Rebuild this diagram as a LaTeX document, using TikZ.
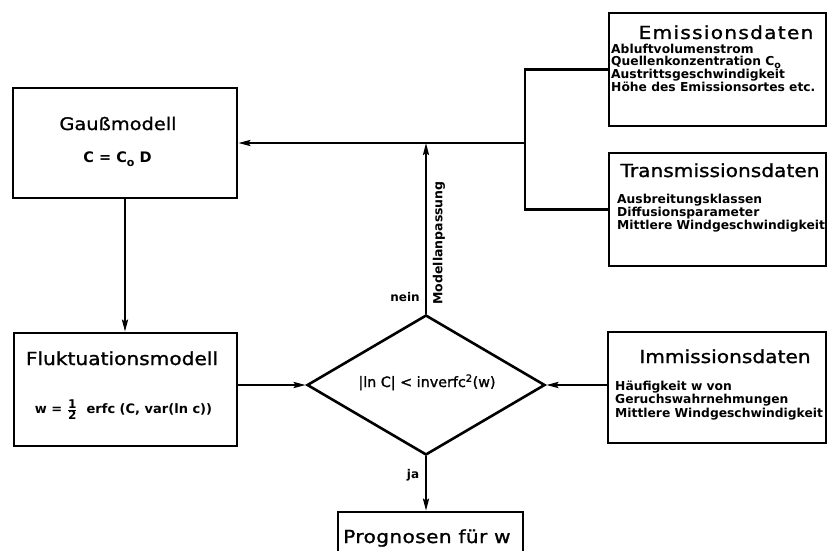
\documentclass[tikz,border=0pt]{standalone}
\usepackage{fontspec}
\setmainfont{DejaVu Sans}
\newfontfamily\titlef[FakeStretch=1.12,FakeBold=1.2]{DejaVu Sans}
\newfontfamily\bodyf{DejaVu Sans}
\newfontfamily\diaf[FakeBold=1.2]{DejaVu Sans}
\usetikzlibrary{shapes.geometric,arrows.meta}
\tikzset{
  box/.style={draw, line width=2.6pt, inner sep=0pt},
  ttl/.style={font=\titlef\fontsize{18}{20}\selectfont, inner sep=0pt, anchor=base},
  bdy/.style={font=\bodyf\bfseries\fontsize{12.3}{11.7}\selectfont, align=left, inner sep=0pt, anchor=base west},
  frm/.style={font=\bodyf\bfseries\fontsize{13}{14}\selectfont, inner sep=0pt, anchor=base},
  lbl/.style={font=\bodyf\bfseries\fontsize{12}{13}\selectfont, inner sep=0pt},
  conn/.style={line width=2.3pt},
  arr/.style={conn, -{Stealth[length=12pt,width=6pt,inset=2pt]}},
}
\begin{document}
\begin{tikzpicture}[x=1pt,y=-1pt]
\clip (0,0) rectangle (827,551);
\fill[white] (0,0) rectangle (827,551);
% boxes
\node[box, minimum width=224, minimum height=110] (gauss) at (125,143) {};
\node[box, minimum width=223, minimum height=113] (fluk) at (125.5,389.5) {};
\node[box, minimum width=217, minimum height=113] (emis) at (717.5,69.5) {};
\node[box, minimum width=217, minimum height=113] (trans) at (717.5,209.5) {};
\node[box, minimum width=218, minimum height=111] (imm) at (717,387.5) {};
\node[box, minimum width=185, minimum height=68] (prog) at (430.5,546) {};
\node[draw, shape=diamond, line width=2.6pt, inner sep=0pt, minimum width=238, minimum height=140] (dia) at (426,385) {};
% titles and texts
\node[ttl, font=\titlef\fontsize{17.3}{20}\selectfont] (gausst) at (118,130) {Gaußmodell};
\node[frm, font=\bodyf\bfseries\fontsize{14.5}{16}\selectfont] (gaussf) at (117.5,162) {C = C\raisebox{-4pt}{\fontsize{11}{11}\selectfont o} D};
\node[ttl] (flukt) at (122,365) {Fluktuationsmodell};
\node[frm] (flukf) at (123.5,413) {w = $\frac{\mbox{\bodyf\bfseries\fontsize{12}{12}\selectfont 1}}{\mbox{\bodyf\bfseries\fontsize{12}{12}\selectfont 2}}$\ \ erfc (C, var(ln c))};
\node[ttl, font=\titlef\addfontfeature{LetterSpace=7}\fontsize{18}{20}\selectfont] (emist) at (726,39) {Emissionsdaten};
\node[bdy] (emisb) at (611,92) {Abluftvolumenstrom\\Quellenkonzentration C\raisebox{-3pt}{\fontsize{9.5}{10}\selectfont o}\\Austrittsgeschwindigkeit\\Höhe des Emissionsortes etc.};
\node[ttl] (transt) at (720,177) {Transmissionsdaten};
\node[bdy, font=\bodyf\bfseries\fontsize{12.3}{11}\selectfont] (transb) at (617,229) {Ausbreitungsklassen\\Diffusionsparameter\\Mittlere Windgeschwindigkeit};
\node[ttl] (immt) at (725,363) {Immissionsdaten};
\node[bdy, font=\bodyf\bfseries\fontsize{12.3}{13.5}\selectfont] (immb) at (615,417) {Häufigkeit w von\\Geruchswahrnehmungen\\Mittlere Windgeschwindigkeit};
\node[ttl, anchor=base west, font=\titlef\addfontfeature{LetterSpace=2}\fontsize{18}{20}\selectfont] (progt) at (343,543) {Prognosen für w};
\node[font=\diaf\fontsize{14.3}{16}\selectfont, inner sep=0pt, anchor=base] (diat) at (427,387) {|ln C| < inverfc\textsuperscript{2}(w)};
% connectors
\coordinate (j1) at (525,143);
\draw[conn] (emis.west) -| (j1);
\draw[conn] (trans.west) -| (j1);
\draw[arr] (j1) -- (gauss.east);
\draw[arr] (dia.north) -- (dia.north |- j1);
\draw[arr] (gauss.south) -- (gauss.south |- fluk.north);
\draw[arr] (fluk.east |- dia.west) -- (dia.west);
\draw[arr] (imm.west |- dia.east) -- (dia.east);
\draw[arr] (dia.south) -- (dia.south |- prog.north);
% labels
\node[lbl, font=\bodyf\bfseries\fontsize{12.5}{13}\selectfont, rotate=90] (modl) at (439,243) {Modellanpassung};
\node[lbl] (nein) at (405,297) {nein};
\node[lbl] (ja) at (413,475) {ja};
\end{tikzpicture}
\end{document}
